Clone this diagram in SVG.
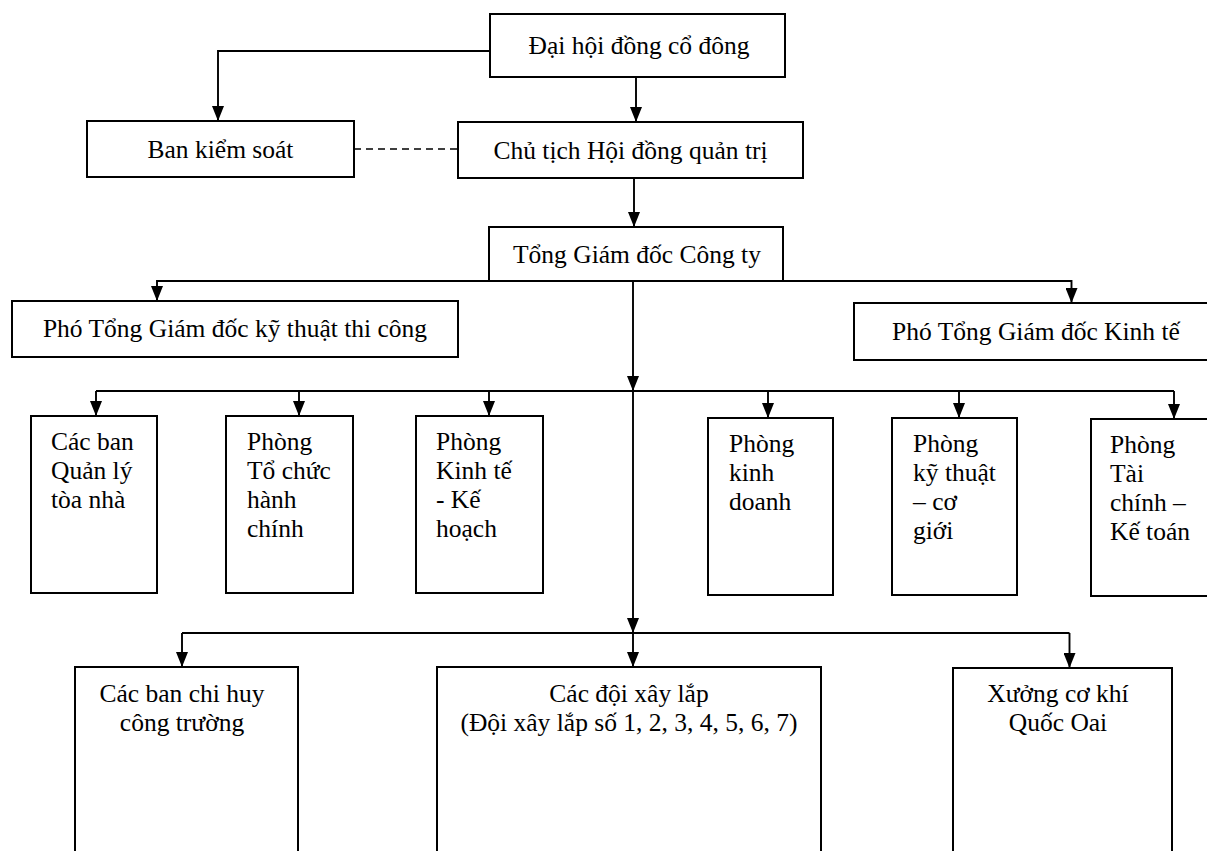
<svg xmlns="http://www.w3.org/2000/svg" width="1207" height="851" viewBox="0 0 1207 851">
<style>
  .box { fill: #fff; stroke: #000; stroke-width: 2; }
  .t { font-family: "Liberation Serif", "Times New Roman", serif; font-size: 25.5px; fill: #000; }
  .c { text-anchor: middle; }
  .ln { fill: none; stroke: #000; stroke-width: 1.9; }
  .arr { marker-end: url(#ah); }
  .dash { fill: none; stroke: #000; stroke-width: 1.6; stroke-dasharray: 7 5; }
</style>
<defs>
  <marker id="ah" markerUnits="userSpaceOnUse" markerWidth="15" markerHeight="12" refX="15" refY="6" orient="auto">
    <path d="M0,0 L15,6 L0,12 Z" fill="#000"/>
  </marker>
</defs>
<rect width="1207" height="851" fill="#fff"/>

<g id="connectors">
  <path class="ln arr" d="M490,51 H218 V121"/>
  <path class="ln arr" d="M636,77 V122"/>
  <path class="dash" d="M354,149 H458"/>
  <path class="ln arr" d="M634,178 V227"/>
  <path class="ln arr" d="M489,281 H157 V301"/>
  <path class="ln arr" d="M783,281 H1071.5 V303"/>
  <path class="ln arr" d="M633,281 V391"/>
  <path class="ln arr" d="M633,391 V633"/>
  <path class="ln arr" d="M633,633 V667"/>
  <path class="ln" d="M96,391 H1174"/>
  <path class="ln arr" d="M96,391 V416"/>
  <path class="ln arr" d="M299,391 V416"/>
  <path class="ln arr" d="M489,391 V416"/>
  <path class="ln arr" d="M768,391 V418"/>
  <path class="ln arr" d="M959,391 V418"/>
  <path class="ln arr" d="M1174,391 V419"/>
  <path class="ln" d="M182,633 H1069.5"/>
  <path class="ln arr" d="M182,633 V667"/>
  <path class="ln arr" d="M1069.5,633 V668"/>
</g>

<g id="dai-hoi">
  <rect class="box" x="490" y="14" width="295" height="63"/>
  <text class="t c" x="639" y="54">Đại hội đồng cổ đông</text>
</g>
<g id="ban-kiem-soat">
  <rect class="box" x="87" y="121" width="267" height="56"/>
  <text class="t c" x="220.5" y="158">Ban kiểm soát</text>
</g>
<g id="chu-tich">
  <rect class="box" x="458" y="122" width="345" height="56"/>
  <text class="t c" x="630.5" y="159">Chủ tịch Hội đồng quản trị</text>
</g>
<g id="tong-giam-doc">
  <rect class="box" x="489" y="227" width="294" height="54"/>
  <text class="t c" x="637" y="263">Tổng Giám đốc Công ty</text>
</g>
<g id="pho-tgd-ky-thuat">
  <rect class="box" x="12" y="301" width="446" height="56"/>
  <text class="t c" x="235" y="337">Phó Tổng Giám đốc kỹ thuật thi công</text>
</g>
<g id="pho-tgd-kinh-te">
  <rect class="box" x="854" y="303" width="370" height="57"/>
  <text class="t c" x="1036" y="340">Phó Tổng Giám đốc Kinh tế</text>
</g>

<g id="ban-quan-ly-toa-nha">
  <rect class="box" x="31" y="416" width="126" height="177"/>
  <text class="t" x="51" y="450">Các ban</text>
  <text class="t" x="51" y="479">Quản lý</text>
  <text class="t" x="51" y="508">tòa nhà</text>
</g>
<g id="phong-to-chuc">
  <rect class="box" x="226" y="416" width="127" height="177"/>
  <text class="t" x="247" y="450">Phòng</text>
  <text class="t" x="247" y="479">Tổ chức</text>
  <text class="t" x="247" y="508">hành</text>
  <text class="t" x="247" y="537">chính</text>
</g>
<g id="phong-kinh-te-ke-hoach">
  <rect class="box" x="416" y="416" width="127" height="177"/>
  <text class="t" x="436" y="450">Phòng</text>
  <text class="t" x="436" y="479">Kinh tế</text>
  <text class="t" x="436" y="508">- Kế</text>
  <text class="t" x="436" y="537">hoạch</text>
</g>
<g id="phong-kinh-doanh">
  <rect class="box" x="708" y="418" width="125" height="177"/>
  <text class="t" x="729" y="452">Phòng</text>
  <text class="t" x="729" y="481">kinh</text>
  <text class="t" x="729" y="510">doanh</text>
</g>
<g id="phong-ky-thuat-co-gioi">
  <rect class="box" x="892" y="418" width="125" height="177"/>
  <text class="t" x="913" y="452">Phòng</text>
  <text class="t" x="913" y="481">kỹ thuật</text>
  <text class="t" x="913" y="510">– cơ</text>
  <text class="t" x="913" y="539">giới</text>
</g>
<g id="phong-tai-chinh-ke-toan">
  <rect class="box" x="1091" y="419" width="130" height="177"/>
  <text class="t" x="1110" y="453">Phòng</text>
  <text class="t" x="1110" y="482">Tài</text>
  <text class="t" x="1110" y="511">chính –</text>
  <text class="t" x="1110" y="540">Kế toán</text>
</g>

<g id="ban-chi-huy-cong-truong">
  <rect class="box" x="75" y="667" width="223" height="220"/>
  <text class="t c" x="182" y="702">Các ban chi huy</text>
  <text class="t c" x="182" y="731">công trường</text>
</g>
<g id="cac-doi-xay-lap">
  <rect class="box" x="437" y="667" width="384" height="220"/>
  <text class="t c" x="629" y="702">Các đội xây lắp</text>
  <text class="t c" x="629" y="731">(Đội xây lắp số 1, 2, 3, 4, 5, 6, 7)</text>
</g>
<g id="xuong-co-khi">
  <rect class="box" x="953" y="668" width="219" height="220"/>
  <text class="t c" x="1058" y="702">Xưởng cơ khí</text>
  <text class="t c" x="1058" y="731">Quốc Oai</text>
</g>
</svg>
